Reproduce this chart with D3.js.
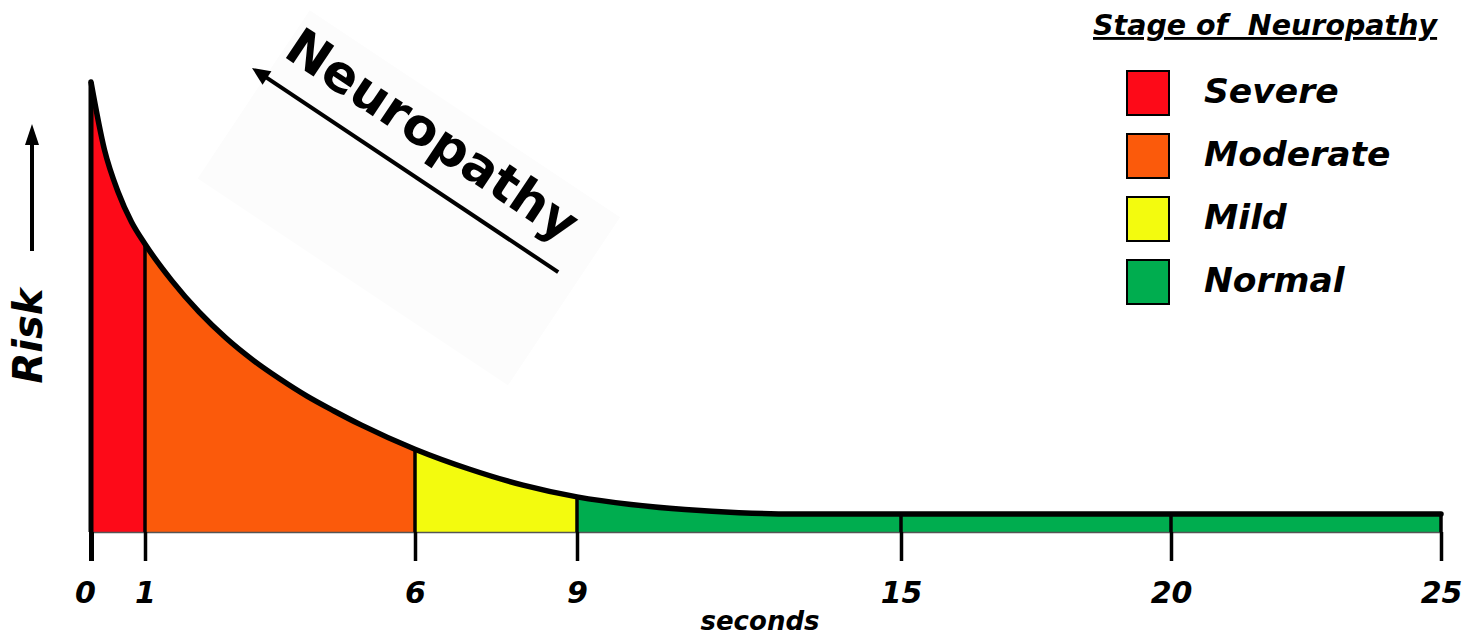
<!DOCTYPE html>
<html lang="en">
<head>
    <meta charset="UTF-8">
    <title>Stage of Neuropathy</title>
    <script src="https://cdn.jsdelivr.net/npm/d3@7"></script>
    <style>
        body {
            margin: 0;
            background: white;
        }
        svg {
            display: block;
        }
        text {
            font-family: "DejaVu Sans", sans-serif;
            font-weight: bold;
            fill: black;
        }
        .italic {
            font-style: italic;
        }
    </style>
</head>
<body>
    <script>
        // data
        const seconds = [0, 0.25, 0.5, 0.75, 1, 1.5, 2, 2.5, 3, 3.5, 4, 4.5, 5, 6, 7, 8, 9, 10, 11, 12, 13, 15, 20, 25];
        const risk = [100, 84.9, 75.6, 68.9, 64.0, 55.8, 48.9, 43.1, 38.2, 34.0, 30.2, 26.9, 23.8, 18.4, 14.0, 10.4, 7.8, 6.1, 5.0, 4.3, 4.0, 4.0, 4.0, 4.0];

        const stageNames = ["Severe", "Moderate", "Mild", "Normal"];
        const stageColors = ["#fd0a18", "#fb5a0b", "#f3fb0e", "#00ad4f"];
        const stageBounds = [0, 1, 6, 9, 25];

        const tickValues = [0, 1, 6, 9, 15, 20, 25];

        const width = 1469;
        const height = 637;

        let svg = d3.select("body").append("svg")
            .attr("width", width)
            .attr("height", height);

        const x = d3.scaleLinear().domain([0, 25]).range([91, 1441]);
        const y = d3.scaleLinear().domain([0, 100]).range([532, 82]);

        const points = seconds.map((s, i) => ({ s: s, r: risk[i] }));
        const riskAt = t => points.find(p => p.s === t).r;

        //faint rotated box behind the "Neuropathy" label
        const angle = Math.atan2(204, 306) * 180 / Math.PI;
        let gNeuro = svg.append("g")
            .attr("transform", `translate(252,68) rotate(${angle})`);
        gNeuro.append("rect")
            .attr("x", 16).attr("y", -80)
            .attr("width", 373).attr("height", 202)
            .attr("fill", "#fcfcfc");

        //stage fills, clipped from one area
        const area = d3.area()
            .x(d => x(d.s))
            .y0(y(0))
            .y1(d => y(d.r))
            .curve(d3.curveMonotoneX);

        let defs = svg.append("defs");
        stageNames.forEach((name, i) => {
            defs.append("clipPath").attr("id", "clip_" + i)
                .append("rect")
                .attr("x", x(stageBounds[i]))
                .attr("y", 0)
                .attr("width", x(stageBounds[i + 1]) - x(stageBounds[i]))
                .attr("height", y(0));
            svg.append("path")
                .datum(points)
                .attr("d", area)
                .attr("fill", stageColors[i])
                .attr("clip-path", `url(#clip_${i})`);
        });

        //x axis (baseline, ticks below, labels)
        let xAxis = svg.append("g")
            .attr("transform", `translate(0,${y(0)})`)
            .call(d3.axisBottom(x)
                .tickValues(tickValues)
                .tickSizeInner(29)
                .tickSizeOuter(0)
                .tickPadding(21)
                .tickFormat(d3.format("d")));
        xAxis.select(".domain")
            .attr("stroke", "#555")
            .attr("stroke-width", 1.5);
        xAxis.selectAll(".tick line")
            .attr("stroke", "black")
            .attr("stroke-width", d => d === 0 ? 5 : 3.5);
        xAxis.selectAll(".tick text")
            .attr("class", "italic")
            .attr("font-family", null)
            .attr("font-size", null)
            .attr("dx", d => d === 0 ? -6 : 0)
            .style("font-size", "30px");

        //dividers up to the curve
        svg.selectAll(".divider")
            .data(tickValues.filter(t => t > 0))
            .enter()
            .append("line")
            .attr("class", "divider")
            .attr("x1", d => x(d)).attr("x2", d => x(d))
            .attr("y1", d => y(riskAt(d)))
            .attr("y2", y(0))
            .attr("stroke", "black")
            .attr("stroke-width", 3.5);

        //left edge
        svg.append("line")
            .attr("x1", x(0)).attr("x2", x(0))
            .attr("y1", y(100)).attr("y2", y(0))
            .attr("stroke", "black")
            .attr("stroke-width", 5);

        //curve
        const line = d3.line()
            .x(d => x(d.s))
            .y(d => y(d.r))
            .curve(d3.curveMonotoneX);
        svg.append("path")
            .datum(points)
            .attr("d", line)
            .attr("fill", "none")
            .attr("stroke", "black")
            .attr("stroke-width", 5.5)
            .attr("stroke-linecap", "round");

        //"seconds"
        svg.append("text")
            .attr("class", "italic")
            .attr("x", 760).attr("y", 630)
            .attr("text-anchor", "middle")
            .style("font-size", "26px")
            .text("seconds");

        //Risk label with up arrow
        svg.append("text")
            .attr("class", "italic")
            .attr("transform", "translate(42,336) rotate(-90)")
            .attr("text-anchor", "middle")
            .style("font-size", "40px")
            .text("Risk");
        svg.append("line")
            .attr("x1", 32).attr("x2", 32)
            .attr("y1", 251).attr("y2", 140)
            .attr("stroke", "black")
            .attr("stroke-width", 4);
        svg.append("path")
            .attr("d", "M32,124 L39,145 L25,145 Z")
            .attr("fill", "black");

        //Neuropathy arrow and text
        gNeuro.append("line")
            .attr("x1", 12).attr("y1", 0)
            .attr("x2", 368).attr("y2", 0)
            .attr("stroke", "black")
            .attr("stroke-width", 4);
        gNeuro.append("path")
            .attr("d", "M0,0 L18,-8 L18,8 Z")
            .attr("fill", "black");
        gNeuro.append("text")
            .attr("x", 18).attr("y", -27)
            .style("font-size", "51px")
            .text("Neuropathy");

        //legend
        let legend = svg.append("g");
        legend.append("text")
            .attr("class", "italic")
            .attr("x", 1093).attr("y", 35)
            .style("font-size", "28.5px")
            .style("white-space", "pre")
            .style("text-decoration", "underline")
            .text("Stage of  Neuropathy");

        let items = legend.selectAll(".item")
            .data(stageNames)
            .enter()
            .append("g")
            .attr("class", "item")
            .attr("transform", (d, i) => `translate(1127,${71 + i * 63})`);
        items.append("rect")
            .attr("width", 42).attr("height", 44)
            .attr("fill", (d, i) => stageColors[i])
            .attr("stroke", "black")
            .attr("stroke-width", 2);
        items.append("text")
            .attr("class", "italic")
            .attr("x", 77).attr("y", 32)
            .style("font-size", "34.5px")
            .text(d => d);
    </script>
</body>
</html>
